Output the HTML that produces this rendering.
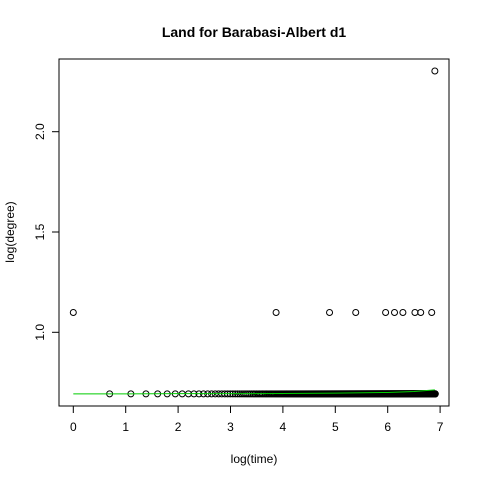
<!DOCTYPE html>
<html><head><meta charset="utf-8"><style>
html,body{margin:0;padding:0;background:#fff;}
svg text{font-family:"Liberation Sans",Arial,sans-serif;}
</style></head><body>
<svg id="chart" width="480" height="480">
<text x="254" y="37" text-anchor="middle" font-size="14" font-weight="bold">Land for Barabasi-Albert d1</text>
<rect x="59" y="59" width="390" height="347" fill="none" stroke="#000"/>
<g id="xaxis"></g>
<g id="yaxis"></g>
<text x="254" y="463" text-anchor="middle" font-size="12">log(time)</text>
<text transform="translate(14,232) rotate(-90)" text-anchor="middle" font-size="12">log(degree)</text>
<g id="points"></g>
<path id="fit" fill="none" stroke="#00cc00" stroke-width="1"/>
</svg>
<script>
const xTicks=[0,1,2,3,4,5,6,7];
const yTicks=[1.0,1.5,2.0];
const highX=[0,3.87,4.89,5.39,5.96,6.13,6.29,6.52,6.63,6.84];
const highY=[1.0986,1.0986,1.0986,1.0986,1.0986,1.0986,1.0986,1.0986,1.0986,1.0986];
const maxX=[6.9];
const maxY=[2.3026];
const baseDegree=0.693;
const baseCount=999;
const fitX=[0,1,2,3,4,5,6,6.5,6.9];
const fitY=[0.693,0.693,0.694,0.694,0.695,0.697,0.700,0.705,0.713];
const sx=v=>73.3+v*52.4;
const sy=v=>332.3-(v-1)*200.6;
const NS="http://www.w3.org/2000/svg";
function mk(t,a,p){const e=document.createElementNS(NS,t);for(const k in a)e.setAttribute(k,a[k]);p.appendChild(e);return e;}
const xa=document.getElementById('xaxis'),ya=document.getElementById('yaxis'),pts=document.getElementById('points');
mk('line',{x1:sx(0),x2:sx(7),y1:406,y2:406,stroke:'#000'},xa);
xTicks.forEach(t=>{mk('line',{x1:sx(t),x2:sx(t),y1:406,y2:413,stroke:'#000'},xa);
const tx=mk('text',{x:sx(t),y:431,'text-anchor':'middle','font-size':12},xa);tx.textContent=t;

});
mk('line',{x1:59,x2:59,y1:sy(1),y2:sy(2),stroke:'#000'},ya);
yTicks.forEach(t=>{mk('line',{x1:52,x2:59,y1:sy(t),y2:sy(t),stroke:'#000'},ya);
const tx=mk('text',{transform:`translate(44,${sy(t)}) rotate(-90)`,'text-anchor':'middle','font-size':12},ya);tx.textContent=t.toFixed(1);

});
function pt(x,y){const c=mk('circle',{cx:sx(x),cy:sy(y),r:3,fill:'none',stroke:'#000','stroke-width':1},pts);

}
for(let t=2;t<=baseCount+1;t++){pt(Math.log(t),baseDegree);}
highX.forEach((x,i)=>pt(x,highY[i]));
maxX.forEach((x,i)=>pt(x,maxY[i]));
document.getElementById('fit').setAttribute('d',fitX.map((x,i)=>(i?'L':'M')+sx(x)+','+sy(fitY[i])).join(''));
</script>
</body></html>
